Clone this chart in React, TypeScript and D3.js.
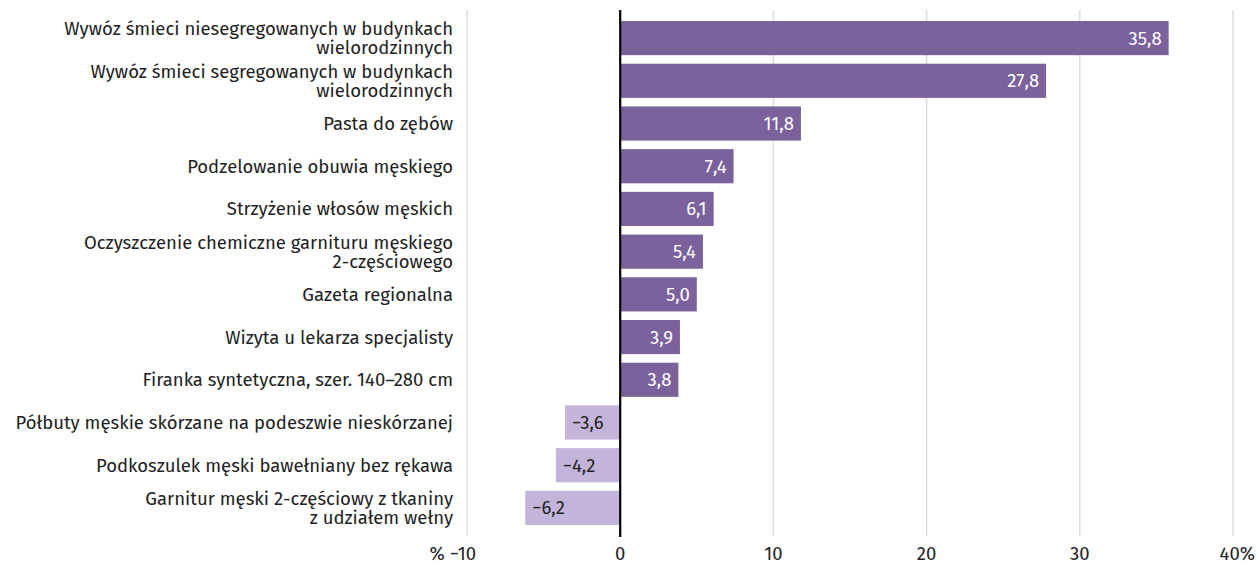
import React from "react";
import * as d3 from "d3";

const categories: string[][] = [
  ["Wywóz śmieci niesegregowanych w budynkach", "wielorodzinnych"],
  ["Wywóz śmieci segregowanych w budynkach", "wielorodzinnych"],
  ["Pasta do zębów"],
  ["Podzelowanie obuwia męskiego"],
  ["Strzyżenie włosów męskich"],
  ["Oczyszczenie chemiczne garnituru męskiego", "2-częściowego"],
  ["Gazeta regionalna"],
  ["Wizyta u lekarza specjalisty"],
  ["Firanka syntetyczna, szer. 140–280 cm"],
  ["Półbuty męskie skórzane na podeszwie nieskórzanej"],
  ["Podkoszulek męski bawełniany bez rękawa"],
  ["Garnitur męski 2-częściowy z tkaniny", "z udziałem wełny"],
];
const values: number[] = [35.8, 27.8, 11.8, 7.4, 6.1, 5.4, 5.0, 3.9, 3.8, -3.6, -4.2, -6.2];
const ticks: number[] = [-10, 0, 10, 20, 30, 40];
const tickLabels: string[] = ["% −10", "0", "10", "20", "30", "40%"];

const W = 1257;
const H = 565;
const FONT = "'Fira Sans', 'Noto Sans', 'Open Sans', sans-serif";

export default function App() {
  const x = d3.scaleLinear().domain([-10, 40]).range([467, 1233]);
  const y = d3
    .scaleBand<number>()
    .domain(values.map((_, i) => i))
    .range([21, 525])
    .paddingInner(0.2)
    .paddingOuter(0);
  const fmt = (v: number) => (v < 0 ? "−" : "") + Math.abs(v).toFixed(1).replace(".", ",");
  return (
    <svg
      width={W}
      height={H}
      style={{ position: "absolute", left: 0, top: 0, fontFamily: FONT, background: "#fff" }}
    >
      {ticks.map((t) =>
        t === 0 ? null : (
          <line key={t} x1={x(t)} x2={x(t)} y1={10} y2={536} stroke="#dcdcdc" strokeWidth={1.5} />
        )
      )}
      {values.map((v, i) => {
        const y0 = y(i)!;
        const bh = y.bandwidth();
        const x0 = x(Math.min(0, v));
        const x1 = x(Math.max(0, v));
        const lines = categories[i];
        const cy = y0 + bh / 2;
        const lh = 19;
        return (
          <g key={i}>
            <rect x={x0} y={y0} width={x1 - x0} height={bh} fill={v >= 0 ? "#7b629d" : "#c2b5d9"} />
            <text
              x={v >= 0 ? x1 - 7 : x0 + 7}
              y={cy}
              dy="0.35em"
              textAnchor={v >= 0 ? "end" : "start"}
              fill={v >= 0 ? "#ffffff" : "#222"}
              fontSize={18.5}
            >
              {fmt(v)}
            </text>
            <text x={453} y={cy - ((lines.length - 1) * lh) / 2} textAnchor="end" fill="#222" fontSize={18.5}>
              {lines.map((l, k) => (
                <tspan key={k} x={453} dy={k === 0 ? "0.35em" : lh}>
                  {l}
                </tspan>
              ))}
            </text>
          </g>
        );
      })}
      <line x1={x(0)} x2={x(0)} y1={10} y2={537} stroke="#000" strokeWidth={2.2} />
      {ticks.map((t, i) => (
        <text
          key={t}
          x={i === 0 ? x(t) + 9 : i === ticks.length - 1 ? x(t) + 22 : x(t)}
          y={554}
          dy="0.35em"
          textAnchor={i === 0 || i === ticks.length - 1 ? "end" : "middle"}
          fill="#222"
          fontSize={18.5}
        >
          {tickLabels[i]}
        </text>
      ))}
    </svg>
  );
}
